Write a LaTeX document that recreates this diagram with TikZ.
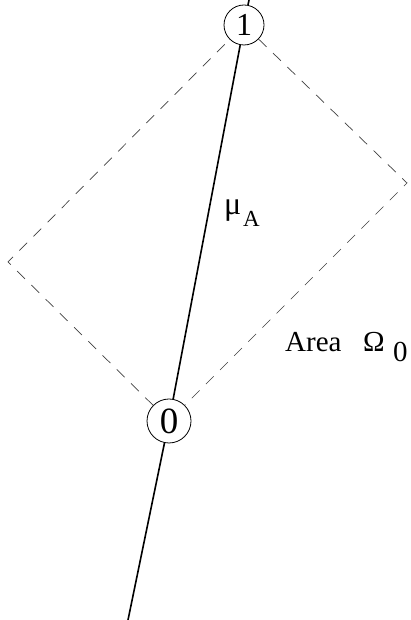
\documentclass[tikz,border=0pt]{standalone}
\usepackage{fontspec}
\setmainfont{Liberation Serif}
\begin{document}
\begin{tikzpicture}[x=1pt,y=1pt,
  numnode/.style={circle,draw,line width=0.8pt,inner sep=0pt},
  mainline/.style={line width=1.6pt},
  area/.style={dashed,line width=0.7pt,dash pattern=on 11pt off 9pt,black!75},
  lbl/.style={inner sep=0pt,anchor=base west}]
\useasboundingbox (0,0) rectangle (411,620);
\node[numnode,minimum size=40pt,font=\fontsize{32}{34}\selectfont] (n1) at (244,595) {1};
\node[numnode,minimum size=44pt,font=\fontsize{37}{39}\selectfont] (n0) at (169,199) {0};
\coordinate (top) at (249,620);
\coordinate (bot) at (128,0);
\coordinate (R) at (407,437);
\coordinate (L) at (8,358);
\draw[mainline] (top) -- (n1);
\draw[mainline] (n1) -- (n0);
\draw[mainline] (n0) -- (bot);
\draw[area] (n1) -- (R) -- (n0);
\draw[area] (n0) -- (L) -- (n1);
\node[lbl,font=\fontsize{32}{34}\selectfont] (mu) at (224,405) {μ};
\node[lbl,font=\fontsize{23}{25}\selectfont] (muA) at (243,393) {A};
\node[lbl,font=\fontsize{29}{31}\selectfont] (areatxt) at (285,268) {Area};
\node[lbl,font=\fontsize{29}{31}\selectfont] (omega) at (363,268) {Ω};
\node[lbl,font=\fontsize{29}{31}\selectfont] (omega0) at (393,258) {0};
\end{tikzpicture}
\end{document}
